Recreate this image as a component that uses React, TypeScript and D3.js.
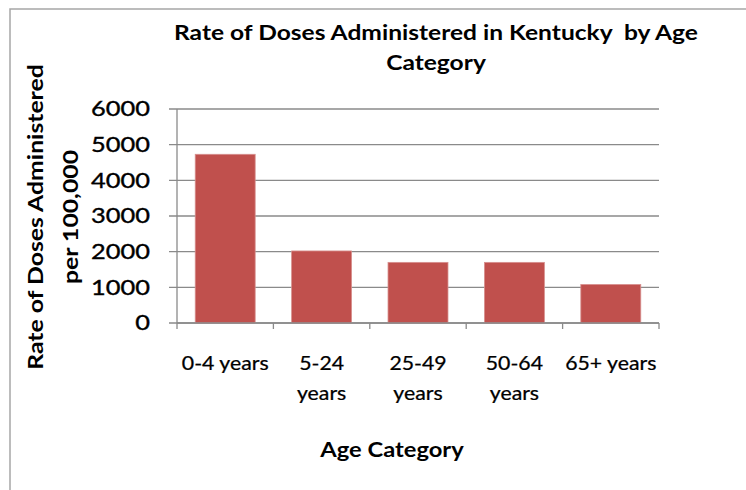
import React from "react";
import * as d3 from "d3";

const categories: string[][] = [
  ["0-4 years"],
  ["5-24", "years"],
  ["25-49", "years"],
  ["50-64", "years"],
  ["65+ years"],
];
const values: number[] = [4730, 2020, 1700, 1700, 1080];
const yTicks: number[] = [0, 1000, 2000, 3000, 4000, 5000, 6000];
const titleLines: string[] = ["Rate of Doses Administered in Kentucky  by Age", "Category"];
const yTitleLines: string[] = ["Rate of Doses Administered", "per 100,000"];
const xTitle = "Age Category";

const W = 746;
const H = 490;
const FONT = "Lato, 'Open Sans', sans-serif";

export default function App() {
  const left = 177;
  const right = 659;
  const top = 109;
  const bottom = 323;

  const x = d3
    .scaleBand<number>()
    .domain(d3.range(categories.length))
    .range([left, right])
    .paddingInner(0.378)
    .paddingOuter(0.189);
  const y = d3.scaleLinear().domain([0, 6000]).range([bottom, top]);
  const step = x.step();
  const catStart = (i: number) => left + i * step;

  return (
    <svg
      width={W}
      height={H}
      style={{ position: "absolute", left: 0, top: 0, display: "block", background: "#fff" }}
      fontFamily={FONT}
    >
      <rect x={0} y={0} width={W} height={H} fill="#fff" />
      <rect x={10} y={9} width={W + 20} height={H + 20} fill="none" stroke="#a6a6a6" strokeWidth={1.5} />

      {/* Title */}
      <g fontWeight="bold" fontSize={21} fill="#000" textAnchor="middle">
        {titleLines.map((t, i) => (
          <text
            key={i}
            transform={`translate(436,${40 + i * 30}) scale(1.17,1)`}
            style={{ whiteSpace: "pre" }}
          >
            {t}
          </text>
        ))}
      </g>

      {/* Gridlines */}
      {yTicks.map((t) => (
        <line
          key={"g" + t}
          x1={left - 8}
          x2={right}
          y1={y(t)}
          y2={y(t)}
          stroke="#8a8a8a"
          strokeWidth={1.3}
        />
      ))}

      {/* Y axis line */}
      <line x1={left} x2={left} y1={top} y2={bottom} stroke="#8a8a8a" strokeWidth={1.3} />

      {/* Bars */}
      {values.map((v, i) => (
        <rect
          key={"b" + i}
          x={x(i)!}
          y={y(v)}
          width={x.bandwidth()}
          height={y(0) - y(v)}
          fill="#C0504D"
          stroke="#D7908E"
          strokeWidth={0.8}
        />
      ))}

      {/* X axis line and ticks */}
      <line x1={left} x2={right} y1={bottom} y2={bottom} stroke="#8a8a8a" strokeWidth={1.3} />
      {d3.range(categories.length + 1).map((i) => (
        <line
          key={"t" + i}
          x1={catStart(i)}
          x2={catStart(i)}
          y1={bottom}
          y2={bottom + 6}
          stroke="#8a8a8a"
          strokeWidth={1.3}
        />
      ))}

      {/* Y tick labels */}
      <g fontSize={20.5} fill="#000" textAnchor="end" stroke="#000" strokeWidth={0.35}>
        {yTicks.map((t) => (
          <text key={"yl" + t} transform={`translate(150,${y(t) + 7.3}) scale(1.24,1)`}>
            {t}
          </text>
        ))}
      </g>

      {/* X category labels */}
      <g fontSize={18.5} fill="#000" textAnchor="middle" stroke="#000" strokeWidth={0.25}>
        {categories.map((lines, i) =>
          lines.map((l, j) => (
            <text
              key={"xl" + i + "-" + j}
              transform={`translate(${x(i)! + x.bandwidth() / 2},${370 + j * 30}) scale(1.15,1)`}
            >
              {l}
            </text>
          ))
        )}
      </g>

      {/* X title */}
      <text
        transform="translate(392,457) scale(1.13,1)"
        fontSize={21}
        fontWeight="bold"
        textAnchor="middle"
        fill="#000"
      >
        {xTitle}
      </text>

      {/* Y title */}
      <g fontSize={21} fontWeight="bold" fill="#000" textAnchor="middle">
        {yTitleLines.map((t, i) => (
          <text key={"yt" + i} transform={`translate(${43 + i * 35},217) rotate(-90) scale(1.18,1)`}>
            {t}
          </text>
        ))}
      </g>
    </svg>
  );
}
